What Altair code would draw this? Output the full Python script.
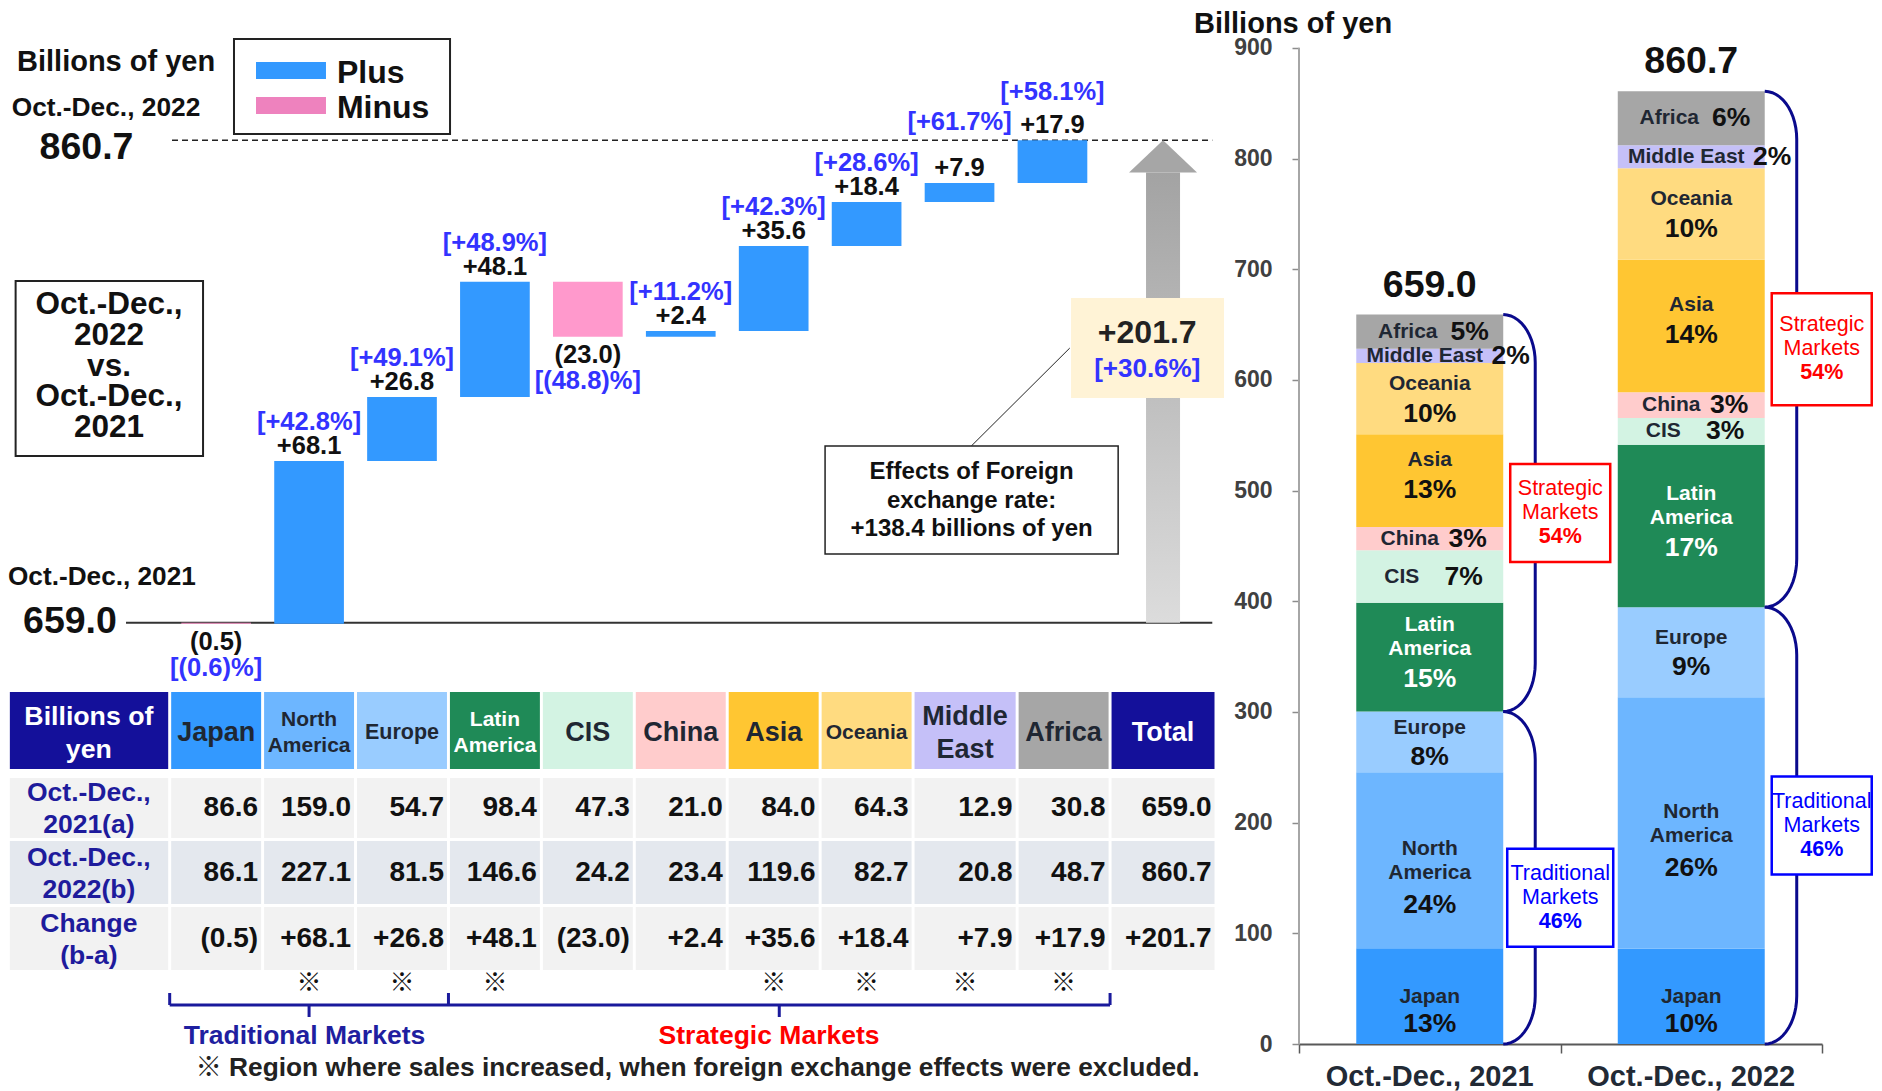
import altair as alt
import pandas as pd
import numpy as np

FONT = "Liberation Sans"
FONT_CJK = "Liberation Sans, Noto Sans CJK JP"

# ---------------- data ----------------
regions = ["Japan", "North America", "Europe", "Latin America", "CIS",
           "China", "Asia", "Oceania", "Middle East", "Africa"]
sales_2021 = [86.6, 159.0, 54.7, 98.4, 47.3, 21.0, 84.0, 64.3, 12.9, 30.8]
sales_2022 = [86.1, 227.1, 81.5, 146.6, 24.2, 23.4, 119.6, 82.7, 20.8, 48.7]
change = [-0.5, 68.1, 26.8, 48.1, -23.0, 2.4, 35.6, 18.4, 7.9, 17.9]
change_pct = [-0.6, 42.8, 49.1, 48.9, -48.8, 11.2, 42.3, 28.6, 61.7, 58.1]
share_2021 = [13, 24, 8, 15, 7, 3, 13, 10, 2, 5]
share_2022 = [10, 26, 9, 17, 3, 3, 14, 10, 2, 6]
fx_excluded_increase = [False, True, True, True, False, False, True, True, True, True]
market_group = ["Traditional"] * 3 + ["Strategic"] * 7
group_share = [{"Traditional": 46, "Strategic": 54}, {"Traditional": 46, "Strategic": 54}]
total_2021 = 659.0
total_2022 = 860.7
total_change = 201.7
total_change_pct = 30.6
fx_effect = 138.4
periods = ["Oct.-Dec., 2021", "Oct.-Dec., 2022"]
y_ticks = [0, 100, 200, 300, 400, 500, 600, 700, 800, 900]
header_lines = ["Japan", "North\nAmerica", "Europe", "Latin\nAmerica", "CIS", "China",
                "Asia", "Oceania", "Middle\nEast", "Africa"]
seg_names = ["Japan", "North\nAmerica", "Europe", "Latin\nAmerica", "CIS", "China",
             "Asia", "Oceania", "Middle East", "Africa"]
row_labels = ["Oct.-Dec.,\n2021(a)", "Oct.-Dec.,\n2022(b)", "Change\n(b-a)"]

# ---------------- styles ----------------
BLUE = "#3399FF"
PINK = "#FF99CC"
PINK_LEG = "#EE82BE"
NAVY = "#14109A"
NAVY_TXT = "#1E1B9C"
PCT_BLUE = "#3333FF"
DARK = "#1F2733"
region_colors = ["#3399FF", "#6DB6FF", "#99CCFF", "#1F8A57", "#D3F3E3",
                 "#FFCCCC", "#FFC632", "#FFDB80", "#C5C0F8", "#A6A6A6"]
header_sizes = [27, 21, 21.5, 21, 27, 27, 27, 21, 27, 27]
header_colors = [DARK, DARK, DARK, "#FFFFFF", DARK, DARK, DARK, DARK, DARK, DARK]
col_w = [1, 1, 1, 1, 1, 1, 1, 1, 1.12, 1.0]
total_w = 1.14
pct_lift = {"Middle East": 61, "Africa": 48}
stack_off = {"Japan": (1, 28), "North America": (1, 45), "Europe": (-14, 15),
             "Latin America": (-20, 22), "Asia": (-21, 9), "Oceania": (-15, 15)}
inline_off = {"CIS": (-28, 34), "China": (-20, 38), "Middle East": (-5, 81), "Africa": (-22, 40)}
box_shift = {(0, "Traditional"): 20}          # px downwards
box_height = {(1, "Strategic"): 112}          # px
box_width = {(0, "Traditional"): 106}


def fmt_change(v):
    return f"+{v:.1f}" if v >= 0 else f"({abs(v):.1f})"


def fmt_pct(v):
    return f"[+{v:.1f}%]" if v >= 0 else f"[({abs(v):.1f})%]"


def one(**kw):
    return pd.DataFrame([kw])


LIT = dict(scale=None)

# ---------------- left side scales ----------------
W_LEFT, H_WF, H_TAB = 1208, 684, 391
WF_PX = H_WF / (916 - 630)
XS = alt.Scale(domain=[-2.24, 10.76], nice=False, zero=False)
YW = alt.Scale(domain=[630 - H_TAB / WF_PX, 916], nice=False, zero=False)
YT = alt.Scale(domain=[-H_WF, H_TAB], nice=False, zero=False, reverse=True)

edges = [-0.5]
for w in col_w:
    edges.append(edges[-1] + w)
total_left, total_right = edges[-1], edges[-1] + total_w
total_x = (total_left + total_right) / 2
col_center = [(edges[i] + edges[i + 1]) / 2 for i in range(10)]


def wx(f):
    return alt.X(f, scale=XS, axis=None)


def wy(f):
    return alt.Y(f, scale=YW, axis=None)


def ty(f):
    return alt.Y(f, scale=YT, axis=None)


def text(data, **kw):
    opts = dict(font=FONT, fontWeight="bold", color="#111111")
    opts.update(kw)
    return alt.Chart(data).mark_text(**opts)


def mtext(df, col, lh, enc, base_dy=0, **kw):
    """multi-line text centred on its anchor: one layer per line count"""
    nl = df[col].str.count("\n") + 1
    out = []
    for n in sorted(nl.unique()):
        sub = df[nl == n].reset_index(drop=True)
        out.append(text(sub, lineBreak="\n", lineHeight=lh, dy=base_dy - (n - 1) * lh / 2, **kw).encode(**enc))
    return out


# ---------------- waterfall ----------------
wf_rows = []
cum = total_2021
for i, (r, c, p) in enumerate(zip(regions, change, change_pct)):
    base, end = cum, cum + c
    cum = end
    wf_rows.append(dict(i=i, region=r, x1=i - 0.375, x2=i + 0.375, base=base, end=end,
                        top=max(base, end), bottom=min(base, end),
                        sign="Plus" if c >= 0 else "Minus",
                        fillc=BLUE if c >= 0 else PINK,
                        val=fmt_change(c), pct=fmt_pct(p), lift=pct_lift.get(r, 39)))
wf = pd.DataFrame(wf_rows)

wf_layers = []
wf_layers.append(alt.Chart(one(x=-0.97, x2=10.72, y=total_2021)).mark_rule(color="#333333", strokeWidth=2)
                 .encode(x=wx("x:Q"), x2="x2:Q", y=wy("y:Q")))
wf_layers.append(alt.Chart(one(x=-0.475, x2=10.72, y=total_2022))
                 .mark_rule(color="#222222", strokeWidth=1.5, strokeDash=[6, 4])
                 .encode(x=wx("x:Q"), x2="x2:Q", y=wy("y:Q")))
grad = {"gradient": "linear", "x1": 0, "x2": 0, "y1": 1, "y2": 0,
        "stops": [{"offset": 0, "color": "#DCDCDC"}, {"offset": 1, "color": "#A3A3A3"}]}
wf_layers.append(alt.Chart(one(x=total_x - 0.183, x2=total_x + 0.183, y=total_2021, y2=847.2))
                 .mark_rect(color=grad).encode(x=wx("x:Q"), x2="x2:Q", y=wy("y:Q"), y2="y2:Q"))
head = pd.DataFrame(dict(x=[total_x - 0.366, total_x, total_x + 0.366],
                         y=[847.2, total_2022, 847.2], y2=[847.2, 847.2, 847.2]))
wf_layers.append(alt.Chart(head).mark_area(color="#A6A6A6").encode(x=wx("x:Q"), y=wy("y:Q"), y2="y2:Q"))
wf_layers.append(alt.Chart(wf).mark_rect().encode(
    x=wx("x1:Q"), x2="x2:Q", y=wy("base:Q"), y2="end:Q", color=alt.Color("fillc:N", **LIT)))
wf_layers.append(text(wf, dy=-15, fontSize=25.5).transform_filter("datum.sign == 'Plus'")
                 .encode(x=wx("i:Q"), y=wy("top:Q"), text="val:N"))
wf_layers.append(text(wf, dy=18, fontSize=25.5).transform_filter("datum.sign == 'Minus'")
                 .encode(x=wx("i:Q"), y=wy("bottom:Q"), text="val:N"))
for lift in sorted(set(wf.loc[wf.sign == "Plus", "lift"])):
    wf_layers.append(text(wf, dy=-lift, fontSize=25.5, color=PCT_BLUE)
                     .transform_filter(f"datum.sign == 'Plus' && datum.lift == {lift}")
                     .encode(x=wx("i:Q"), y=wy("top:Q"), text="pct:N"))
wf_layers.append(text(wf, dy=44, fontSize=25.5, color=PCT_BLUE).transform_filter("datum.sign == 'Minus'")
                 .encode(x=wx("i:Q"), y=wy("bottom:Q"), text="pct:N"))
# FX effect box + connector
wf_layers.append(alt.Chart(one(x=8.128, y=732.9, x2=9.186, y2=773.8)).mark_rule(color="#222222", strokeWidth=1)
                 .encode(x=wx("x:Q"), y=wy("y:Q"), x2="x2:Q", y2="y2:Q"))
wf_layers.append(alt.Chart(one(x=6.553, x2=9.707, y=687.7, y2=732.9))
                 .mark_rect(fill="white", stroke="#222222", strokeWidth=1.5)
                 .encode(x=wx("x:Q"), x2="x2:Q", y=wy("y:Q"), y2="y2:Q"))
wf_layers += mtext(one(x=8.13, y=709.9, t=f"Effects of Foreign\nexchange rate:\n+{fx_effect} billions of yen"),
                   "t", 28.5, dict(x=wx("x:Q"), y=wy("y:Q"), text="t:N"), fontSize=24)
# total change box
wf_layers.append(alt.Chart(one(x=9.20, x2=10.846, y=752.9, y2=794.7)).mark_rect(fill="#FFF3D6")
                 .encode(x=wx("x:Q"), x2="x2:Q", y=wy("y:Q"), y2="y2:Q"))
wf_layers.append(text(one(x=10.02, y=780.2, t=fmt_change(total_change)), fontSize=32, color="#222222")
                 .encode(x=wx("x:Q"), y=wy("y:Q"), text="t:N"))
wf_layers.append(text(one(x=10.02, y=764.9, t=fmt_pct(total_change_pct)), fontSize=26, color=PCT_BLUE)
                 .encode(x=wx("x:Q"), y=wy("y:Q"), text="t:N"))
# legend
wf_layers.append(alt.Chart(one(x=0.192, x2=2.517, y=863.3, y2=903.0))
                 .mark_rect(fill="white", stroke="#222222", strokeWidth=2)
                 .encode(x=wx("x:Q"), x2="x2:Q", y=wy("y:Q"), y2="y2:Q"))
leg = pd.DataFrame(dict(x=[0.429, 0.429], x2=[1.182, 1.182], y=[886.3, 871.7], y2=[893.4, 878.8],
                        sign=["Plus", "Minus"], c=[BLUE, PINK_LEG], tx=[1.30, 1.30], ty=[888.9, 874.2]))
wf_layers.append(alt.Chart(leg).mark_rect().encode(
    x=wx("x:Q"), x2="x2:Q", y=wy("y:Q"), y2="y2:Q", color=alt.Color("c:N", **LIT)))
wf_layers.append(text(leg, align="left", fontSize=32).encode(x=wx("tx:Q"), y=wy("ty:Q"), text="sign:N"))
# left-side annotations
left_txt = pd.DataFrame(dict(
    x=[-2.143, -2.2, -2.24],
    y=[893.25, 874.2, 678.1],
    t=["Billions of yen", "Oct.-Dec., 2022", "Oct.-Dec., 2021"],
    s=[29, 26.3, 26.2]))
wf_layers.append(text(left_txt, align="left").encode(
    x=wx("x:Q"), y=wy("y:Q"), text="t:N", size=alt.Size("s:Q", scale=None)))
big = pd.DataFrame(dict(x=[-1.395, -1.573], y=[857.3, 659.1],
                        t=[f"{total_2022:.1f}", f"{total_2021:.1f}"]))
wf_layers.append(text(big, fontSize=37.5).encode(x=wx("x:Q"), y=wy("y:Q"), text="t:N"))
wf_layers.append(alt.Chart(one(x=-2.158, x2=-0.141, y=728.7, y2=801.85))
                 .mark_rect(fill="white", stroke="#222222", strokeWidth=2)
                 .encode(x=wx("x:Q"), x2="x2:Q", y=wy("y:Q"), y2="y2:Q"))
wf_layers += mtext(one(x=-1.153, y=766.0, t="Oct.-Dec.,\n2022\nvs.\nOct.-Dec.,\n2021"),
                   "t", 30.75, dict(x=wx("x:Q"), y=wy("y:Q"), text="t:N"), fontSize=31.5)

# ---------------- table ----------------
row_bands = [(0, 77), (86, 146), (149, 212), (215, 278)]
row_fill = ["#F2F2F2", "#E4E8EE", "#F2F2F2"]
cols = [("hdr", -2.22, -0.5, NAVY)] + \
       [(r, edges[i], edges[i + 1], region_colors[i]) for i, r in enumerate(regions)] + \
       [("Total", total_left, total_right, NAVY)]
g = 0.016
cells = []
for name, a, b, hc in cols:
    for r, (t0, t1) in enumerate(row_bands):
        cells.append(dict(x=a + (0 if name == "hdr" else g), x2=b - g, y=t0, y2=t1,
                          fill=hc if r == 0 else row_fill[r - 1]))
cells = pd.DataFrame(cells)

tab_layers = [alt.Chart(cells).mark_rect().encode(
    x=wx("x:Q"), x2="x2:Q", y=ty("y:Q"), y2="y2:Q", color=alt.Color("fill:N", **LIT))]

hdr = [dict(x=-1.37, y=41, t="Billions of\nyen", c="#FFFFFF", s=26.7)]
for i, r in enumerate(regions):
    hdr.append(dict(x=col_center[i], y=41, t=header_lines[i], c=header_colors[i], s=header_sizes[i]))
hdr.append(dict(x=total_x, y=41, t="Total", c="#FFFFFF", s=27))
hdr = pd.DataFrame(hdr)
henc = dict(x=wx("x:Q"), y=ty("y:Q"), text="t:N", color=alt.Color("c:N", **LIT),
            size=alt.Size("s:Q", scale=None))
tab_layers += mtext(hdr[hdr.s >= 24], "t", 33, henc)
tab_layers += mtext(hdr[hdr.s < 24], "t", 26, henc)

rl = pd.DataFrame(dict(x=[-1.37] * 3, y=[(a + b) / 2 + 1 for a, b in row_bands[1:]], t=row_labels))
tab_layers += mtext(rl, "t", 32, dict(x=wx("x:Q"), y=ty("y:Q"), text="t:N"), fontSize=26.5, color=NAVY_TXT)

nums = []
rights = [edges[i + 1] for i in range(10)] + [total_right]
row_vals = [sales_2021 + [total_2021], sales_2022 + [total_2022], change + [total_change]]
for r, vals in enumerate(row_vals):
    yc = (row_bands[r + 1][0] + row_bands[r + 1][1]) / 2
    for k, v in enumerate(vals):
        nums.append(dict(x=rights[k] - g, y=yc, t=(fmt_change(v) if r == 2 else f"{v:.1f}")))
nums = pd.DataFrame(nums)
tab_layers.append(text(nums, fontSize=28, align="right", dx=-3).encode(
    x=wx("x:Q"), y=ty("y:Q"), text="t:N"))

marks = pd.DataFrame(dict(x=[col_center[i] for i in range(10) if fx_excluded_increase[i]]))
marks["y"] = 291
marks["t"] = "※"
tab_layers.append(text(marks, font=FONT_CJK, fontWeight="normal", fontSize=25).encode(
    x=wx("x:Q"), y=ty("y:Q"), text="t:N"))

trad_idx = [i for i, m in enumerate(market_group) if m == "Traditional"]
strat_idx = [i for i, m in enumerate(market_group) if m == "Strategic"]
b_left = edges[trad_idx[0]]
b_mid = edges[strat_idx[0]]
b_right = total_left
trad_c = (b_left + b_mid) / 2
strat_c = (b_mid + b_right) / 2
BR = "#1A1A9C"
tab_layers.append(alt.Chart(one(x=b_left, x2=b_right, y=313)).mark_rule(color=BR, strokeWidth=3)
                  .encode(x=wx("x:Q"), x2="x2:Q", y=ty("y:Q")))
ticks = pd.DataFrame(dict(x=[b_left, b_mid, b_right, trad_c, strat_c],
                          y=[301, 301, 301, 313, 313], y2=[313, 313, 313, 325, 325]))
tab_layers.append(alt.Chart(ticks).mark_rule(color=BR, strokeWidth=3)
                  .encode(x=wx("x:Q"), y=ty("y:Q"), y2="y2:Q"))
grp = pd.DataFrame(dict(x=[trad_c - 0.05, strat_c - 0.11], y=[344, 344],
                        t=["Traditional Markets", "Strategic Markets"], c=["#1F1FA0", "#FF0000"]))
tab_layers.append(text(grp, fontSize=26.5).encode(
    x=wx("x:Q"), y=ty("y:Q"), text="t:N", color=alt.Color("c:N", **LIT)))
tab_layers.append(text(one(x=5.18, y=376, t="※ Region where sales increased, when foreign exchange effects were excluded."),
                       font=FONT_CJK, fontSize=26.3, color="#222222")
                  .encode(x=wx("x:Q"), y=ty("y:Q"), text="t:N"))

left = alt.layer(alt.layer(*wf_layers), alt.layer(*tab_layers)) \
    .resolve_scale(y="independent").properties(width=W_LEFT, height=H_WF + H_TAB)

# ---------------- right: stacked bars ----------------
W_R, H_R = 523, 1036
XR = alt.Scale(domain=[0, 2], nice=False, zero=False)
YR = alt.Scale(domain=[0, 936], nice=False, zero=False)
PX_X = W_R / 2.0
PX_Y = H_R / 936.0
bar_half = 0.281

AX_X = alt.Axis(values=[0, 1, 2], labels=False, tickSize=9, tickColor="#595959", tickWidth=1.5,
                domainColor="#595959", domainWidth=2, grid=False, title=None)
AX_Y = alt.Axis(values=y_ticks, labelFontSize=23, labelFontWeight="bold", labelColor="#404040",
                labelFont=FONT, tickColor="#8C8C8C", tickSize=7, tickWidth=1.5, labelPadding=20,
                domain=False, grid=False, title=None)


def rx(f):
    return alt.X(f, scale=XR, axis=AX_X)


def ry(f):
    return alt.Y(f, scale=YR, axis=AX_Y)


segs, names, pcts, tots, brk, boxes = [], [], [], [], [], []
for k, (per, vals, shares) in enumerate(zip(periods, [sales_2021, sales_2022], [share_2021, share_2022])):
    xc = k + 0.5
    cum = 0.0
    bounds = {}
    for i, (r, v, s) in enumerate(zip(regions, vals, shares)):
        base, top = cum, cum + v
        mid = (base + top) / 2
        cum = top
        segs.append(dict(region=r, c=region_colors[i], x=xc - bar_half, x2=xc + bar_half, y=base, y2=top))
        tc = "#FFFFFF" if r == "Latin America" else DARK
        pc = "#FFFFFF" if r == "Latin America" else "#111111"
        if r in inline_off:
            ndx, pdx = inline_off[r]
            names.append(dict(x=xc + ndx / PX_X, y=mid, t=seg_names[i], c=tc))
            pcts.append(dict(x=xc + pdx / PX_X, y=mid, t=f"{s}%", c=pc))
        else:
            ndy, pdy = stack_off[r]
            names.append(dict(x=xc, y=mid - ndy / PX_Y, t=seg_names[i], c=tc))
            pcts.append(dict(x=xc, y=mid - pdy / PX_Y, t=f"{s}%", c=pc))
        gname = market_group[i]
        lo, hi = bounds.get(gname, (base, top))
        bounds[gname] = (min(lo, base), max(hi, top))
    tots.append(dict(x=xc, y=cum, t=f"{cum:.1f}"))
    xr_ = xc + bar_half
    rxu = 32 / PX_X
    xv = xr_ + rxu
    ryu = 48 / PX_Y
    for gname, (lo, hi) in bounds.items():
        th = np.linspace(0, np.pi / 2, 14)
        pts = [(xr_ + rxu * np.sin(a), hi - ryu * (1 - np.cos(a))) for a in th]
        pts += [(xr_ + rxu * np.sin(a), lo + ryu * (1 - np.cos(a))) for a in th[::-1]]
        for o, (px, py) in enumerate(pts):
            brk.append(dict(id=f"{k}-{gname}", o=o, x=px, y=py))
        cx = xv + 25 / PX_X
        cy = (lo + hi) / 2 - box_shift.get((k, gname), 0) / PX_Y
        hh = box_height.get((k, gname), 98) / 2
        hw = box_width.get((k, gname), 100) / 2
        boxes.append(dict(x=cx - hw / PX_X, x2=cx + hw / PX_X, y=cy - hh / PX_Y, y2=cy + hh / PX_Y,
                          cx=cx, cy=cy, t=f"{gname}\nMarkets", p=f"{group_share[k][gname]}%",
                          c="#FF0000" if gname == "Strategic" else "#0000FF"))

segs = pd.DataFrame(segs)
names = pd.DataFrame(names)
pcts = pd.DataFrame(pcts)
tots = pd.DataFrame(tots)
brk = pd.DataFrame(brk)
boxes = pd.DataFrame(boxes)

r_layers = []
r_layers.append(alt.Chart(segs).mark_rect().encode(
    x=rx("x:Q"), x2="x2:Q", y=ry("y:Q"), y2="y2:Q", color=alt.Color("c:N", **LIT)))
r_layers.append(alt.Chart(one(x=0, y=0, y2=y_ticks[-1])).mark_rule(color="#A6A6A6", strokeWidth=2)
                .encode(x=rx("x:Q"), y=ry("y:Q"), y2="y2:Q"))
r_layers += mtext(names, "t", 24, dict(x=rx("x:Q"), y=ry("y:Q"), text="t:N",
                                       color=alt.Color("c:N", **LIT)), fontSize=21)
r_layers.append(text(pcts, fontSize=26.5).encode(
    x=rx("x:Q"), y=ry("y:Q"), text="t:N", color=alt.Color("c:N", **LIT)))
r_layers.append(text(tots, fontSize=37.5, dy=-29).encode(x=rx("x:Q"), y=ry("y:Q"), text="t:N"))
r_layers.append(alt.Chart(brk).mark_line(color="#0A0A8C", strokeWidth=3).encode(
    x=rx("x:Q"), y=ry("y:Q"), detail="id:N", order="o:Q"))
r_layers.append(alt.Chart(boxes).mark_rect(fill="white", strokeWidth=2.5).encode(
    x=rx("x:Q"), x2="x2:Q", y=ry("y:Q"), y2="y2:Q", stroke=alt.Stroke("c:N", scale=None)))
r_layers += mtext(boxes, "t", 24, dict(x=rx("cx:Q"), y=ry("cy:Q"), text="t:N",
                                       color=alt.Color("c:N", **LIT)),
                  base_dy=-12, fontSize=21.5, fontWeight="normal")
r_layers.append(text(boxes, fontSize=21.5, dy=24).encode(
    x=rx("cx:Q"), y=ry("cy:Q"), text="p:N", color=alt.Color("c:N", **LIT)))
xl = pd.DataFrame(dict(x=[0.5, 1.5], y=[0, 0], t=periods))
r_layers.append(text(xl, fontSize=29, dy=33, color="#222A35").encode(x=rx("x:Q"), y=ry("y:Q"), text="t:N"))
r_layers.append(text(one(x=-0.4015, y=921.5, t="Billions of yen"), fontSize=29, align="left").encode(
    x=rx("x:Q"), y=ry("y:Q"), text="t:N"))

right_chart = alt.layer(*r_layers).properties(width=W_R, height=H_R)

chart = alt.hconcat(left, right_chart, spacing=83, bounds="flush").properties(padding=0) \
    .configure_view(stroke=None)

chart.save("out.html", embed_options={"renderer": "svg", "actions": False})
